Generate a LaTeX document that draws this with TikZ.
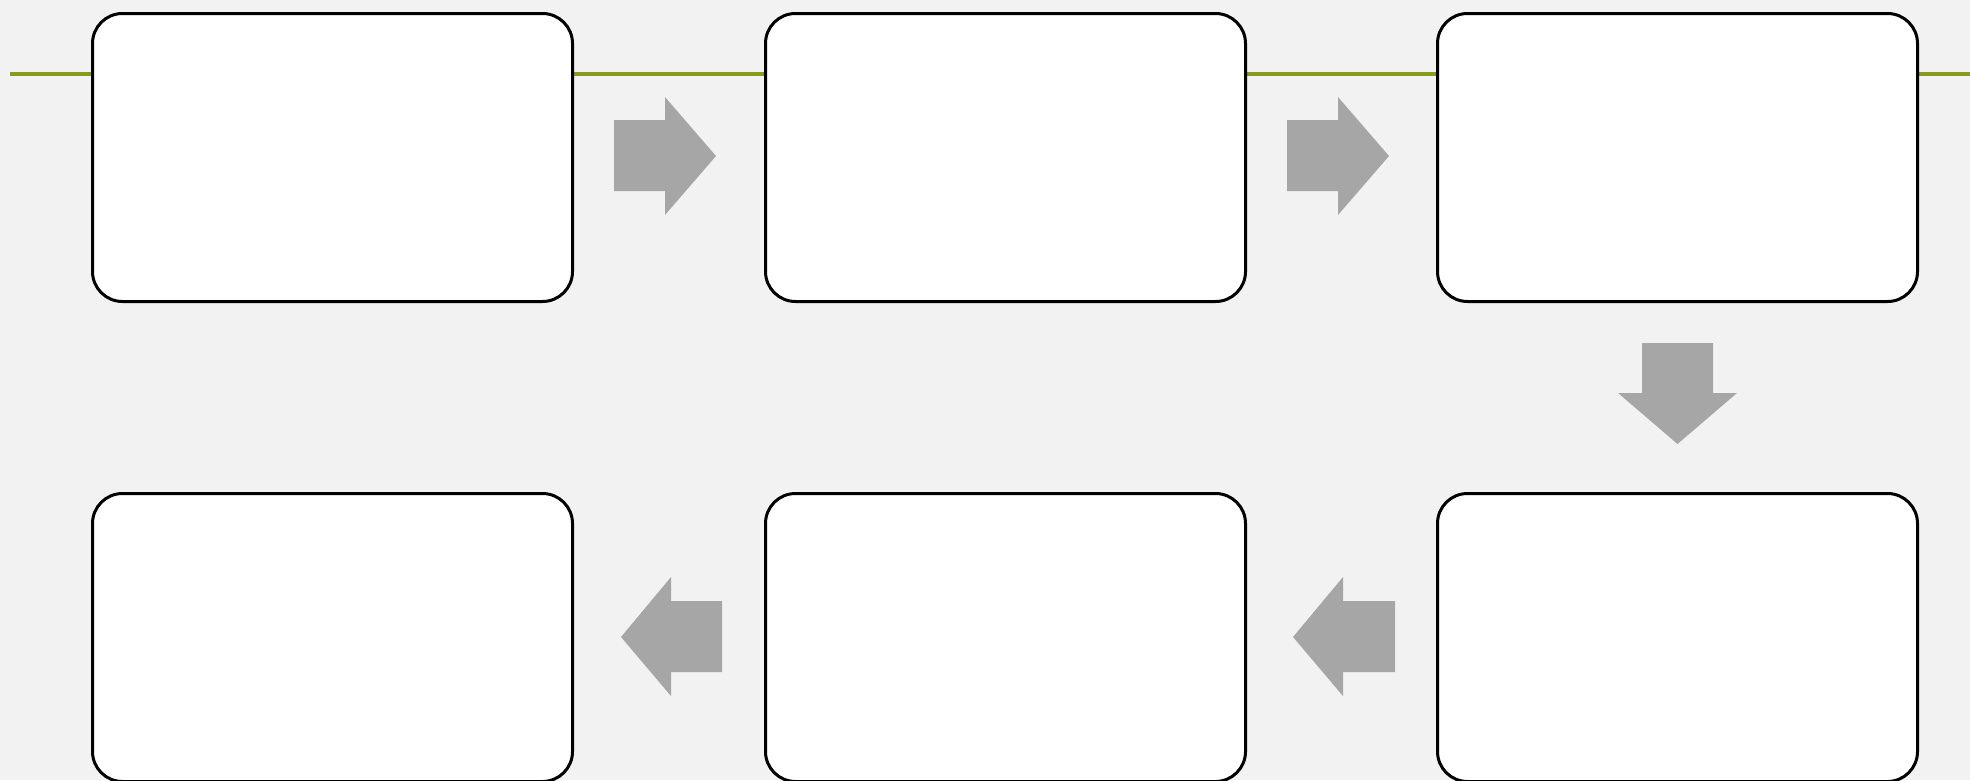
\documentclass[tikz,border=0pt]{standalone}
\begin{document}
\begin{tikzpicture}[x=1pt,y=-1pt,
  box/.style={draw=black,fill=white,line width=3pt,rounded corners=30pt,minimum width=480pt,minimum height=288pt,inner sep=0pt,anchor=north west},
  arr/.style={fill=arrowgray,draw=none}]
\definecolor{bggray}{RGB}{242,242,242}
\definecolor{arrowgray}{RGB}{166,166,166}
\definecolor{olive}{RGB}{138,155,28}
\fill[bggray] (0,0) rectangle (1970,780);
\useasboundingbox (0,0) rectangle (1970,780);
% green line
\coordinate (L0) at (10,74);
\coordinate (L1) at (1970,74);
\draw[olive,line width=3.2pt] (L0) -- (L1);
% boxes
\node[box] (b1) at (91,12) {};
\node[box] (b2) at (764,12) {};
\node[box] (b3) at (1436,12) {};
\node[box] (b4) at (1436,492) {};
\node[box] (b5) at (764,492) {};
\node[box] (b6) at (91,492) {};
% right arrows
\fill[arr] (614,120) -- (665,120) -- (665,97) -- (716,156) -- (665,215) -- (665,191) -- (614,191) -- cycle;
\fill[arr] (1287,120) -- (1338,120) -- (1338,97) -- (1389,156) -- (1338,215) -- (1338,191) -- (1287,191) -- cycle;
% down arrow
\fill[arr] (1642,343) -- (1713,343) -- (1713,393) -- (1737,393) -- (1677.5,444) -- (1618,393) -- (1642,393) -- cycle;
% left arrows
\fill[arr] (1395,601) -- (1343,601) -- (1343,577) -- (1293,637) -- (1343,696) -- (1343,672) -- (1395,672) -- cycle;
\fill[arr] (722,601) -- (671,601) -- (671,577) -- (621,637) -- (671,696) -- (671,672) -- (722,672) -- cycle;
\end{tikzpicture}
\end{document}
